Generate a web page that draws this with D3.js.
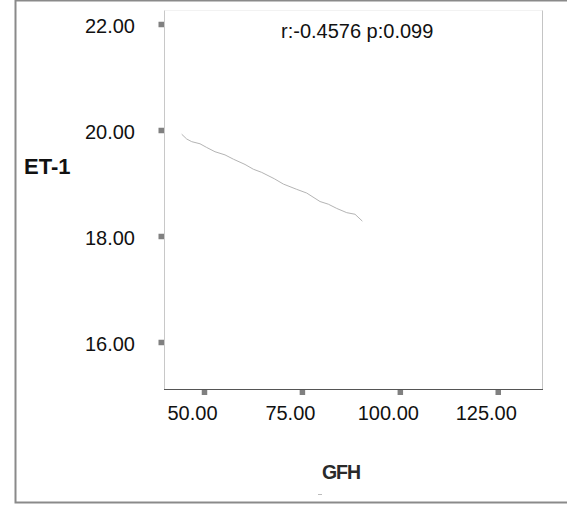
<!DOCTYPE html>
<html>
<head>
<meta charset="utf-8">
<script src="https://cdn.jsdelivr.net/npm/d3@7"></script>
<style>
  html, body { margin: 0; padding: 0; background: #fff; }
  svg text { font-family: "Liberation Sans", Arial, sans-serif; }
</style>
</head>
<body>
<svg id="chart" width="567" height="505"></svg>
<script>
// ---- data ----
const xTicks = [50, 75, 100, 125];
const yTicks = [16, 18, 20, 22];
const xTitle = "GFH";
const yTitle = "ET-1";
const annotation = "r:-0.4576 p:0.099";
const fitX = [44.31, 45.59, 46.86, 48.98, 50.69, 52.81, 55.37, 57.49, 60.47, 62.59, 64.74,
              67.96, 70.26, 73.68, 76.23, 79.63, 81.75, 83.89, 86.45, 88.56, 90.43];
const fitY = [19.92, 19.83, 19.78, 19.74, 19.67, 19.59, 19.53, 19.45, 19.35, 19.26, 19.20,
              19.08, 18.98, 18.88, 18.81, 18.65, 18.60, 18.52, 18.44, 18.41, 18.28];

// ---- layout ----
const svg = d3.select("#chart");
const plot = { left: 164.5, right: 542.5, top: 10.5, bottom: 389.5 };

const x = d3.scaleLinear().domain([39.79, 136.3]).range([164, 542]);
const y = d3.scaleLinear().domain([15.113, 22.264]).range([389, 10]);

// outer frame
svg.append("rect")
  .attr("x", 15.5).attr("y", 0.5).attr("width", 600).attr("height", 502)
  .attr("fill", "none").attr("stroke", "#8a8a8a").attr("stroke-width", 2);

// plot borders
svg.append("line").attr("x1", plot.left).attr("x2", plot.right).attr("y1", plot.top).attr("y2", plot.top)
  .attr("stroke", "#f2f2f2").attr("stroke-width", 1);
svg.append("line").attr("x1", plot.right).attr("x2", plot.right).attr("y1", plot.top).attr("y2", plot.bottom)
  .attr("stroke", "#c4c4c4").attr("stroke-width", 1);
svg.append("line").attr("x1", plot.left).attr("x2", plot.left).attr("y1", plot.top).attr("y2", plot.bottom)
  .attr("stroke", "#c8c8c8").attr("stroke-width", 1);

// y axis
const yAxis = svg.append("g")
  .attr("transform", `translate(${plot.left - 0.5},0)`)
  .call(d3.axisLeft(y).tickValues(yTicks).tickFormat(d3.format(".2f")).tickSize(0).tickPadding(29));
yAxis.select(".domain").remove();
yAxis.selectAll(".tick text")
  .attr("font-size", 20).attr("fill", "#111").attr("dy", "0.42em")
  .style("font-family", "'Liberation Sans', Arial, sans-serif");
yAxis.selectAll(".tick").append("rect")
  .attr("x", -5.5).attr("y", -2.75).attr("width", 5.5).attr("height", 5.5).attr("fill", "#808080");

// x axis
const xAxis = svg.append("g")
  .attr("transform", `translate(0,${plot.bottom - 0.5})`)
  .call(d3.axisBottom(x).tickValues(xTicks).tickFormat(d3.format(".2f")).tickSize(0).tickPadding(17));
xAxis.select(".domain").remove();
xAxis.selectAll(".tick text")
  .attr("font-size", 20).attr("fill", "#111").attr("dx", -12)
  .style("font-family", "'Liberation Sans', Arial, sans-serif");
xAxis.selectAll(".tick").append("rect")
  .attr("x", -2.75).attr("y", 0).attr("width", 5.5).attr("height", 6).attr("fill", "#808080");

// bottom axis line
svg.append("line").attr("x1", plot.left - 0.5).attr("x2", plot.right + 0.5).attr("y1", plot.bottom).attr("y2", plot.bottom)
  .attr("stroke", "#555").attr("stroke-width", 1);

// fit line
const pts = fitX.map((v, i) => [v, fitY[i]]);
svg.append("path")
  .datum(pts)
  .attr("fill", "none").attr("stroke", "#b4b4b4").attr("stroke-width", 1)
  .attr("d", d3.line().x(d => x(d[0])).y(d => y(d[1])));

// annotation
svg.append("text").attr("x", 281).attr("y", 37.5)
  .attr("font-size", 20).attr("fill", "#111").text(annotation);

// axis titles
svg.append("text").attr("x", 24).attr("y", 174)
  .attr("font-size", 22).attr("font-weight", "bold").attr("fill", "#111").text(yTitle);
svg.append("text").attr("x", 341).attr("y", 479).attr("text-anchor", "middle")
  .attr("font-size", 19.5).attr("font-weight", "bold").attr("fill", "#2a2a2a")
  .attr("letter-spacing", -1).text(xTitle);

// small stray mark beneath title
svg.append("line").attr("x1", 318).attr("x2", 322).attr("y1", 494.5).attr("y2", 494.5)
  .attr("stroke", "#bbb").attr("stroke-width", 1);
</script>
</body>
</html>
